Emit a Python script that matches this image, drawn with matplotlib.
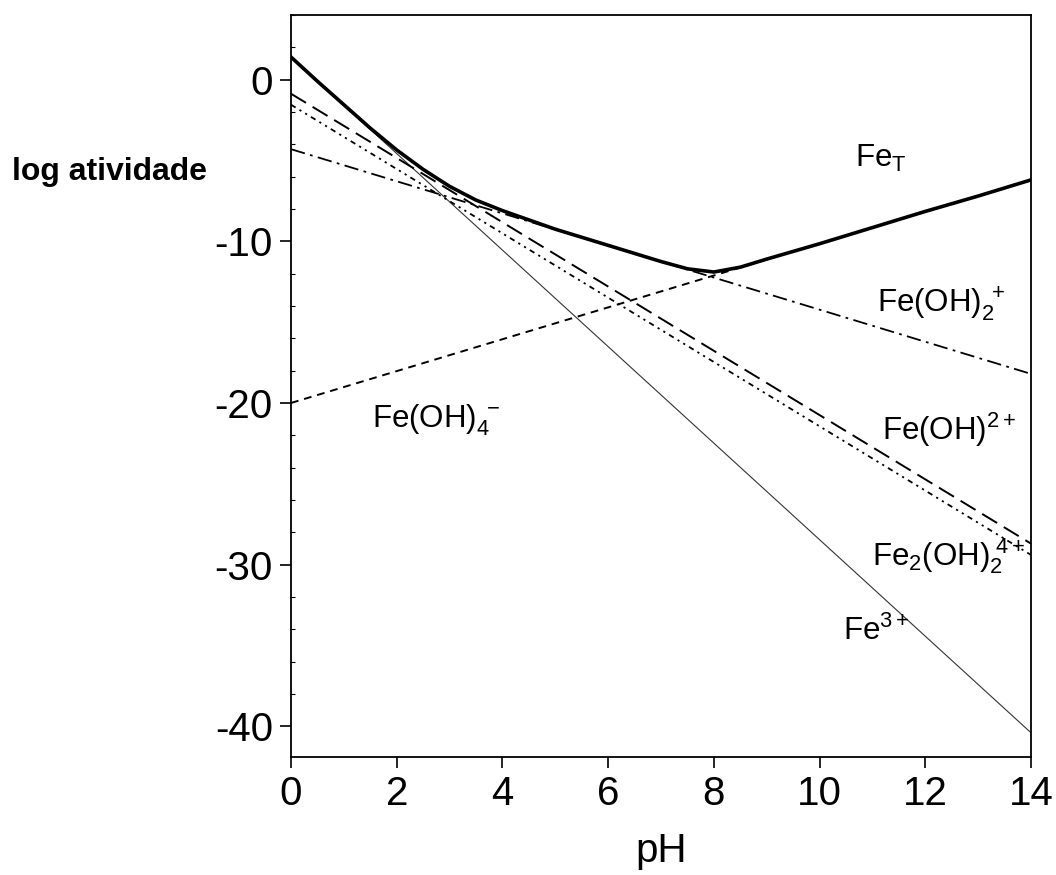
import matplotlib
matplotlib.use("Agg")
import matplotlib.pyplot as plt
from matplotlib.ticker import MultipleLocator

plt.rcParams['font.family'] = ['Liberation Sans', 'DejaVu Sans']
plt.rcParams['mathtext.fontset'] = 'custom'
plt.rcParams['mathtext.rm'] = 'Liberation Sans'
plt.rcParams['mathtext.it'] = 'Liberation Sans:italic'
plt.rcParams['mathtext.bf'] = 'Liberation Sans:bold'
plt.rcParams['mathtext.default'] = 'regular'

# ---- data ----
ph_ends = [0, 14]
fe3 = [1.4, -40.4]            # Fe3+
feoh_2p = [-0.87, -28.7]      # Fe(OH)2+
fe2oh2_4p = [-1.55, -29.4]    # Fe2(OH)2 4+
feoh2_p = [-4.3, -18.2]       # Fe(OH)2 +
feoh4_m = [-20.0, -6.2]       # Fe(OH)4 -

ph_tot = [0, 0.5, 1, 1.5, 2, 2.5, 3, 3.5, 4, 5, 6, 7, 7.5, 8, 8.5, 9, 10, 11, 12, 13, 14]
fe_tot = [1.4, -0.1, -1.55, -3.0, -4.35, -5.55, -6.6, -7.45, -8.1, -9.25, -10.25,
          -11.25, -11.7, -11.9, -11.6, -11.1, -10.15, -9.15, -8.15, -7.2, -6.2]

x_ticks = [0, 2, 4, 6, 8, 10, 12, 14]
y_ticks = [0, -10, -20, -30, -40]

labels = [r'Fe$_T$', r'Fe(OH)$_2^{\ +}$', r'Fe(OH)$^{2+}$', r'Fe(OH)$_4^{\ -}$',
          r'Fe$_2$(OH)$_2^{\ 4+}$', r'Fe$^{3+}$']
label_x = [10.67, 11.09, 11.18, 1.53, 10.99, 10.44]
label_y = [-5.39, -14.37, -22.29, -21.49, -30.03, -34.67]

fig = plt.figure(figsize=(10.56, 8.75), dpi=100)
ax = fig.add_axes([291/1056, 1-757/875, (1031-291)/1056, (757-15)/875])

ax.plot(ph_ends, fe3, color='#333333', lw=0.8, zorder=2)
ax.plot(ph_ends, feoh4_m, color='black', lw=1.4, linestyle=(0, (4, 3)), zorder=2)
ax.plot(ph_ends, feoh2_p, color='black', lw=1.3, linestyle=(0, (8, 3, 1.5, 3)), zorder=2)
ax.plot(ph_ends, fe2oh2_4p, color='black', lw=1.3, linestyle=(0, (3, 2.5, 1.2, 2.5, 1.2, 2.5)), zorder=2)
ax.plot(ph_ends, feoh_2p, color='black', lw=1.4, linestyle=(0, (9, 4)), zorder=2)
ax.plot(ph_tot, fe_tot, color='black', lw=2.6, zorder=3)

for t, x, y in zip(labels, label_x, label_y):
    ax.text(x, y, t, fontsize=22.5, ha='left', va='baseline')

ax.set_xlim(0, 14)
ax.set_ylim(-41.9, 4.0)
ax.set_xticks(x_ticks)
ax.set_yticks(y_ticks)
ax.yaxis.set_minor_locator(MultipleLocator(2))
ax.tick_params(axis='both', which='major', direction='out', length=8, width=1.2,
               labelsize=29, pad=5)
ax.tick_params(axis='y', which='minor', direction='in', length=3, width=0.8)
ax.set_yticklabels([str(v) for v in y_ticks])
for s in ax.spines.values():
    s.set_linewidth(1.3)

ax.set_xlabel('pH', fontsize=29, labelpad=14)
fig.text(12/1056, 1-172/875, 'log atividade', fontsize=23, fontweight='bold',
         ha='left', va='center')

fig.savefig('out.png', dpi=100)
